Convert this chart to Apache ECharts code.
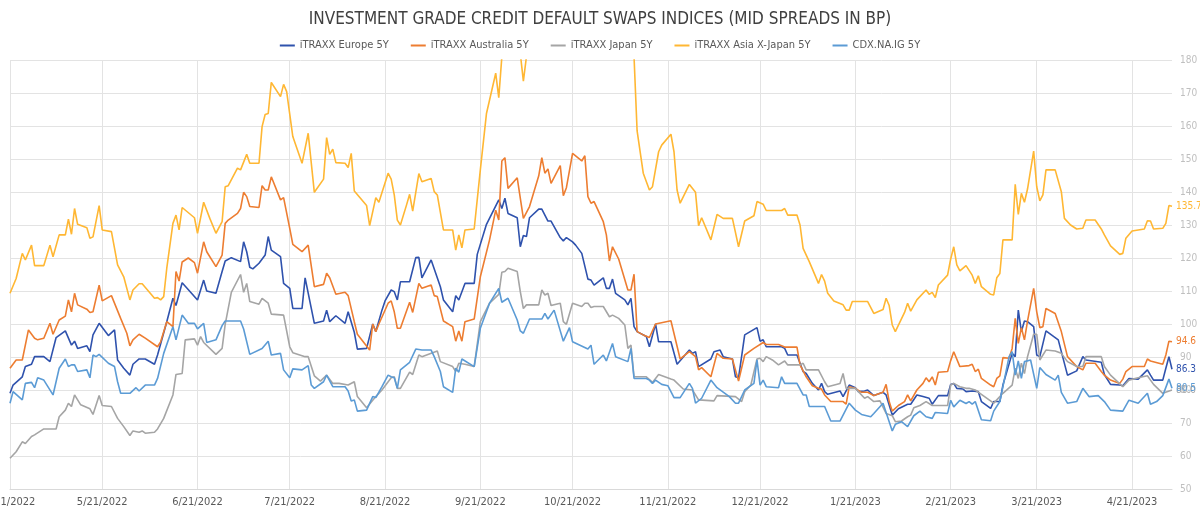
<!DOCTYPE html>
<html style="height: 100%">
<head>
<meta charset="utf-8">
</head>
<body style="height: 100%; margin: 0">
<div id="container" style="width: 1200px; height: 512px"></div>
<script type="text/javascript" src="https://cdn.jsdelivr.net/npm/echarts@6/dist/echarts.min.js"></script>
<script type="text/javascript">
// x values are days after 4/21/2022 (last point 5/4/2023)
var startDate = [2022, 3, 21];
var dayCount = 379;

var euDays = [0,1,4,5,7,8,11,13,15,18,20,21,22,25,26,27,29,32,34,35,37,39,40,42,44,47,48,51,53,54,56,61,63,
  64,67,69,70,72,75,76,77,78,79,81,83,84,85,88,89,91,92,95,96,99,102,103,104,106,109,110,112,113,116,118,119,121,122,124,
  125,126,127,130,132,133,134,137,140,141,144,145,146,148,151,152,155,159,160,161,162,165,166,167,168,169,172,173,175,176,179,180,181,183,184,186,188,
  189,190,193,194,195,196,197,200,201,202,203,204,207,208,210,211,215,217,221,222,223,224,228,229,231,232,235,236,237,239,243,244,245,246,
  251,252,253,256,258,259,261,263,264,265,266,270,271,273,275,276,278,279,281,284,285,287,289,292,293,295,297,299,300,302,305,306,307,308,310,311,
  313,315,316,319,320,322,323,326,327,328,329,330,331,333,334,335,337,340,341,344,347,349,350,355,356,358,361,362,364,367,370,371,372,375,376,377,378];
var euVals = [79,81.5,84,87.1,87.8,90.1,90.1,88.6,95.9,97.9,93.6,94.8,92.6,93.4,91.6,96.7,100.2,96.5,98.2,89.1,86.6,84.5,87.8,89.4,89.4,87.8,90.6,100.7,107.8,105.6,112.5,107.3,113.3,
  110,109.3,115.9,119.1,120.1,118.9,124.9,121.9,117.2,116.7,118.4,120.9,126.5,122.4,120.4,112.3,110.8,104.7,104.7,114,100.2,100.9,104.2,100.7,102.5,100.2,103.7,97.5,92.4,92.6,100,97.7,104.2,107,110.3,
  109.8,107.3,112.8,112.8,120.1,120.2,114,119.4,111.3,107.3,103.7,108.6,107.3,112.3,112.3,121.1,130.2,137.6,135,138.1,133.5,132.2,123.4,126.8,126.5,132.2,134.8,134.8,131.2,131.2,126.2,125.2,126.2,124.9,123.9,121.4,113.6,
  113.3,111.8,114,110.8,110.8,113.6,109.3,107.3,105.8,107.8,99.2,97.7,96.2,93.1,100,94.6,94.6,87.8,92.1,91.1,91.6,87.1,89.4,91.6,92.1,90.1,89.4,84,83.7,96.7,98.9,94.8,95.2,93.1,
  93.1,92.6,90.6,90.6,85.6,85,82,80,82,79.5,78.7,79.7,78,81.5,80.7,79.5,79.7,80,78.3,79.3,78.5,72.4,74.3,75.7,75.7,78.5,78,77.5,75.7,78.3,78.3,81.7,82,80.5,80.3,79.5,
  79.7,79.5,76.5,74.4,76.5,76.5,81.5,91.1,90.1,104.2,97.7,100.9,100.7,99.2,90.6,90.1,97.9,95.9,95.2,84.5,85.8,90.1,89.1,88.4,84.7,81.7,81.5,81.3,83.5,83.3,86.1,84.5,83,83,86.6,90.1,86.3];

var auDays = [0,2,4,6,8,9,11,13,14,16,18,19,20,21,22,25,26,27,29,30,33,36,38,39,40,42,44,48,49,51,53,54,55,56,58,60,61,63,
  64,67,69,70,71,74,75,76,77,78,81,82,83,84,85,88,89,91,92,95,97,99,102,103,104,106,109,110,112,113,117,118,119,120,123,124,
  125,126,127,130,131,133,134,137,138,139,141,144,145,146,147,148,151,153,156,158,159,160,161,162,165,167,169,172,173,174,175,176,179,180,181,183,186,187,188,
  189,190,193,194,195,196,198,201,202,203,204,206,208,210,215,218,221,223,224,225,228,230,232,235,237,239,242,245,246,
  250,252,256,257,259,261,263,264,265,267,271,272,273,275,277,279,281,284,285,286,287,289,291,292,293,295,297,298,299,300,301,302,305,306,307,309,312,
  313,314,315,316,319,320,321,322,323,325,326,327,328,329,330,331,333,334,335,336,337,340,342,344,347,349,350,353,355,356,358,361,362,363,365,369,370,371,375,376,377,378];
var auVals = [86.6,89.1,89.1,98.2,95.7,95.2,95.7,100.2,96.9,101.2,102.4,107.3,103.7,109.3,105.8,104.5,103.5,103.7,111.8,107,108.6,101.7,97.2,93.4,95.2,96.9,95.7,93.1,94.6,100.7,99.2,115.9,113,118.8,120,118.6,115.4,124.9,
  121.9,117.4,120.9,130.5,131.5,133.5,135,139.9,138.6,135.6,135.3,141.9,140.6,140.6,144.6,137.6,138.3,129,124.1,121.9,123.9,111.3,112,115.4,114,109,109.6,108.6,100.7,96.9,92.1,100,97.7,100,106.3,107,
  103.7,98.7,98.7,106.6,103.5,112.3,110.8,111.8,108.6,108.3,100.9,99.2,94.8,97.9,94.8,100.7,101.5,114.3,125.5,134.5,131.5,149.4,150.4,141.1,144.3,132,135.6,144.9,150.4,145.7,147,142.6,148,138.9,141.3,151.7,149.4,151,138.6,
  136.6,137.1,131,127,119.1,123.4,119.7,110.3,110.3,115.1,97.7,96.7,95.9,100,101,89.4,91.6,90.1,86.1,86.8,84,91.1,89.6,89.4,82.7,90.6,92.6,94.4,93.8,
  93.8,93,93,87.6,84,81.3,80.5,80.3,78.5,76.5,76.5,75.7,81,80.5,79.3,79.3,78.3,79.3,81.7,76.5,73.6,75.3,76.5,78.5,76.7,80,82,83.7,82.5,84,81.5,85.4,85.6,88.9,91.6,87.1,87.4,
  87.8,85.6,86.3,83.5,81.5,81,83.5,84.3,89.8,89.6,92.6,101.7,94.1,98.9,95.2,100.9,110.8,103.7,98.9,99.2,104.7,103.2,97.7,90.1,87.1,86.1,88.1,88.1,85.6,84.5,83,82,83.3,85.6,87.1,87.1,89.4,88.8,87.8,90.6,94.8,94.6];

var jpDays = [0,2,4,5,7,8,11,15,16,18,19,20,21,23,26,27,29,30,33,35,37,39,40,42,43,44,47,48,50,53,54,56,57,60,61,62,
  63,67,69,70,72,75,76,77,78,81,82,84,85,89,91,92,96,97,99,101,103,105,107,110,112,113,116,119,121,124,
  125,126,127,130,131,133,134,139,140,144,145,146,148,151,153,156,159,160,161,162,165,166,167,168,172,173,174,175,176,179,180,181,183,186,187,188,
  189,190,193,195,196,198,200,201,202,203,207,209,211,215,216,219,222,224,229,230,236,238,239,241,243,244,245,246,248,
  250,252,253,257,258,259,263,265,266,270,271,272,275,278,279,281,283,285,287,288,290,292,293,294,296,298,300,305,306,307,309,311,
  312,314,316,320,321,323,326,327,328,329,330,331,333,334,335,337,340,342,344,347,349,350,355,356,358,362,364,367,370,372,375,378];
var jpVals = [59.3,61.3,64.3,63.8,65.9,66.4,68.2,68.2,71.9,73.9,76,75,78.5,75.5,74.3,72.6,78.3,75.3,75,71.4,68.9,66.2,67.6,67.2,67.6,66.9,67.2,68.2,71.4,78.5,84.7,85,95.2,95.5,93.6,96.2,
  94.4,90.8,92.6,99.9,109.6,115,109.6,112.3,106.8,106,107.8,106.3,103,102.7,93.1,91.3,90.1,90.1,84.3,82.7,84.5,82,82,81.5,82.5,78,74.6,78,80,83.7,
  84,80.5,80.5,85.4,84.7,90.6,90.1,91.8,88.6,87.1,85.6,88.1,87.8,87.1,100.7,106.3,109,115.7,115.9,116.9,115.9,109.8,104.7,105.8,105.8,110.3,108.8,109.3,105.6,106.3,100.7,99.9,106.3,105.3,106.3,106.3,
  105,105.3,105.3,102.2,102.7,101.7,99.7,92.6,93.6,84,84,82.3,84.7,83.3,83,80.3,80,77,76.7,78.3,78,76.5,79.5,81.5,89.4,89.6,88.6,90.1,89.1,
  87.6,88.8,87.6,87.6,88.1,86.1,86.1,82.5,81,82,85,80.5,80.5,77.5,78,76.5,76.7,72.9,72.2,70.4,70.6,71.9,72.4,74.6,75.3,76.5,75.3,75.3,81.5,82,81,80.5,
  80.5,80,78.7,76,77,79,81.5,86.6,83.5,88.1,85,90.1,96.9,96.9,89.1,92.1,91.8,91.1,88.6,87.1,87.1,90.1,90.1,87.1,84.5,81,83,83.7,84.3,81.7,79,80];

var asDays = [0,2,4,5,7,8,11,13,14,16,18,19,20,21,22,25,26,27,29,30,33,35,37,39,40,42,43,47,48,49,50,51,53,54,55,56,60,61,63,
  65,67,69,70,71,74,75,77,78,81,82,83,84,85,88,89,90,92,95,97,99,102,103,104,105,106,109,110,111,112,116,117,119,120,123,124,
  125,126,127,129,130,131,133,134,137,138,139,141,144,145,146,147,148,151,153,155,158,159,160,162,165,166,167,168,172,178,185,192,198,202,
  203,204,206,208,209,211,212,215,216,217,218,221,223,224,225,228,230,232,235,237,239,242,243,245,246,
  251,252,253,256,257,258,260,263,264,265,266,268,271,272,273,274,279,281,284,285,286,287,288,291,292,293,295,298,299,300,301,302,305,306,307,308,309,311,
  313,314,315,316,319,320,321,322,323,326,327,328,329,330,331,333,334,335,336,337,340,342,343,345,347,349,350,353,355,356,358,361,362,363,365,369,370,371,372,375,376,377,378];
var asVals = [109.3,113.8,121.4,119.4,123.9,117.7,117.7,123.9,120.4,127,127,131.8,127.2,135,130.2,129.2,126,126.4,135.9,128.5,128,117.9,114.3,107.3,110.3,112.2,112.2,107.8,108,107.3,108.3,116.9,130.5,133,128.5,135.3,132.2,127.5,136.9,
  132,127.5,131,141.6,141.9,147.2,146.7,151.4,148.7,148.7,159.8,163.5,163.8,173.2,168.9,172.6,170.4,156.8,148.7,157.8,139.9,143.9,156.5,151.4,153,148.9,148.7,147.4,151.7,140.3,135.9,129.8,138.3,136.9,145.7,143.9,
  139.1,131.5,130,136.1,139.3,134.2,145.6,143.1,144.1,140.1,139.1,128.5,128.5,122.4,127,123.1,128.5,128.8,146.7,163.8,176,168.6,181,188,190,182,173.6,181,195,200,198,196,193,188,
  181,158.5,145.7,140.6,141.6,152.2,154.2,157.5,152.2,140.6,136.6,142.3,139.9,129.8,132.2,125.5,133.2,132,132,123.4,131.2,132.8,137.1,136.3,134.4,
  134.4,135,133,133,130,122.9,118.9,112.3,115,113,109.3,107,105.8,104.2,104.2,106.8,106.8,103.2,104.4,107.8,105.6,99.7,97.7,103.5,106.3,103.9,107.3,110.3,109,109.6,108,111.8,114.8,119.7,123.4,117.9,116.1,117.7,
  114.8,112.3,114.6,111.3,109,108.8,114,115.3,125.5,125.5,142.3,133.2,139.6,136.9,140.9,152.4,141.6,137.3,139.1,146.7,146.7,140.1,132,130,128.8,129,131.5,131.5,128.8,127,123.7,121.1,121.4,126,128.2,128.8,131.3,131.2,128.8,129,130.5,135.9,135.7];

var cdxDays = [0,1,4,5,7,8,9,11,14,16,18,19,20,21,22,25,26,27,28,29,32,34,35,36,39,41,42,44,47,48,50,53,54,56,58,60,61,63,
  64,67,69,70,75,76,78,82,84,85,88,89,91,92,95,97,98,99,102,103,105,109,110,111,112,113,116,118,119,121,123,124,
  125,126,127,130,132,134,137,138,140,141,144,145,146,147,151,153,156,159,160,162,165,166,167,169,173,174,175,177,180,182,183,188,
  189,190,193,194,196,197,201,202,203,207,208,209,210,212,214,216,218,221,222,223,225,228,230,234,236,237,239,242,243,244,245,246,250,
  251,252,256,258,259,260,265,267,270,273,275,277,280,281,284,287,288,290,292,294,296,298,300,301,305,306,307,309,311,
  312,313,314,316,319,320,322,325,326,327,328,329,330,332,334,335,337,340,341,342,344,347,349,351,354,356,358,362,364,367,370,371,373,375,377,378];
var cdxVals = [76,79.5,77,82,82.3,80.7,83.7,83,78.5,86.6,89.4,87.1,87.6,87.6,85.6,86.1,83.7,90.6,90.1,90.8,88.1,87.1,82.5,79,79,80.7,79.7,81.5,81.5,83.5,91.1,99.2,95.2,102.7,100.2,100.2,98.5,100.2,
  94.4,95.2,99.5,100.9,100.9,98.5,90.8,92.6,94.8,90.6,91.1,86.1,83.7,86.4,86.1,87.4,81.5,80.5,82.5,84.5,81,81,79.7,76.7,77,73.6,73.9,78,77.7,81,84.5,84,
  83.7,80.5,86.1,88.4,92.4,92.1,92.1,90.1,85.6,81,79.3,86.6,85.4,89.4,87.1,98.7,106.3,110.8,106.6,107.8,101.2,97.9,97.2,101.5,101.5,103.2,101.5,104.2,94.8,98.9,94.6,92.4,
  93.6,87.8,90.6,88.8,94.1,90.1,88.6,92.6,83.5,83.5,83,82,83,81.7,81.3,77.7,77.7,82,80.5,76,77.5,83,80.7,78,76,76,80,82,89.1,81.5,83,81,80.7,
  84,82,82,78.5,78.5,75,75,70.6,70.6,76,73.9,72.6,71.9,72.9,76,67.6,69.6,70.4,68.9,72.2,73.6,71.9,71.4,73.2,72.9,76.9,74.9,76.9,75.9,
  76.5,75.7,76.5,71,70.7,73.6,76.5,90.1,91.6,84.5,88.8,83.5,88.6,89.1,80.5,86.8,84.7,83,84.5,79.3,76,76.5,80.5,78,78.3,76.5,73.9,73.6,76.9,76,79,75.7,76.5,78.3,83.3,80.5];

var names = ['iTRAXX Europe 5Y', 'iTRAXX Australia 5Y', 'iTRAXX Japan 5Y', 'iTRAXX Asia X-Japan 5Y', 'CDX.NA.IG 5Y'];
var colors = ['#2f52ad', '#ed7d31', '#a5a5a5', '#ffb733', '#5b9bd5'];

var dayLabels = [];
for (var i = 0; i < dayCount; i++) {
    var dt = new Date(startDate[0], startDate[1], startDate[2] + i);
    dayLabels.push((dt.getMonth() + 1) + '/' + dt.getDate() + '/' + dt.getFullYear());
}
function pairs(days, vals) {
    return days.map(function (d, k) { return [dayLabels[d], vals[k]]; });
}
var allData = [pairs(euDays, euVals), pairs(auDays, auVals), pairs(jpDays, jpVals), pairs(asDays, asVals), pairs(cdxDays, cdxVals)];
function on21(idx, val) { return val.split('/')[1] === '21'; }

var font = "'Liberation Sans Narrow', 'DejaVu Sans Condensed', sans-serif";
var myChart = echarts.init(document.getElementById('container'));
var option = {
    animation: false,
    color: colors,
    textStyle: { fontFamily: font },
    title: {
        text: 'INVESTMENT GRADE CREDIT DEFAULT SWAPS INDICES (MID SPREADS IN BP)',
        left: 'center', top: 6,
        textStyle: { fontSize: 17, fontWeight: 'normal', color: '#404040', fontFamily: font }
    },
    legend: {
        top: 35, left: 'center',
        icon: 'rect', itemWidth: 15, itemHeight: 2, itemGap: 22,
        textStyle: { fontSize: 11, color: '#595959', fontFamily: font },
        data: names
    },
    grid: { left: 10, right: 28, top: 60, bottom: 23, outerBoundsMode: 'none', containLabel: false },
    xAxis: {
        type: 'category',
        boundaryGap: false,
        data: dayLabels,
        axisLine: { lineStyle: { color: '#d9d9d9' } },
        axisTick: { show: false },
        axisLabel: { interval: on21, color: '#595959', fontSize: 11, margin: 8, fontFamily: font, hideOverlap: false },
        splitLine: { show: true, interval: on21, lineStyle: { color: '#e3e3e3' } }
    },
    yAxis: {
        type: 'value',
        position: 'right',
        min: 50, max: 180, interval: 10,
        axisLine: { show: false },
        axisTick: { show: false },
        axisLabel: { color: '#bfbfbf', fontSize: 10, margin: 8, fontFamily: font },
        splitLine: { lineStyle: { color: '#e3e3e3' } }
    },
    series: names.map(function (n, k) {
        return {
            name: n,
            type: 'line',
            data: allData[k],
            showSymbol: false,
            symbol: 'none',
            lineStyle: { width: 1.6 },
            endLabel: {
                show: true, distance: 4, color: colors[k], fontSize: 10, fontFamily: font,
                formatter: function (p) { return p.value[1].toFixed(1); }
            }
        };
    })
};
myChart.setOption(option);
window.onresize = myChart.resize;
</script>
</body>
</html>
